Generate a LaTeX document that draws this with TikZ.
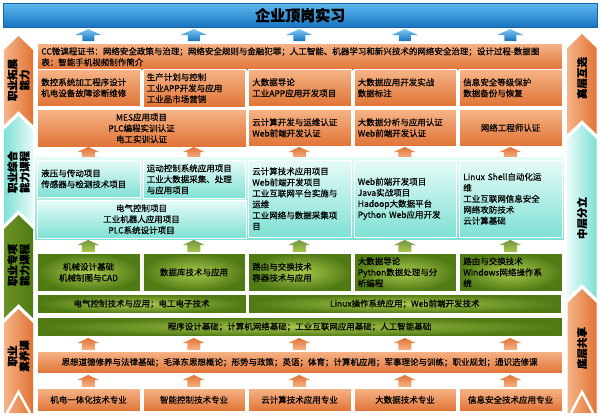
\documentclass[tikz,border=0pt]{standalone}
\usepackage{fontspec}
\setmainfont{Noto Sans CJK SC}[FakeBold=0.5]
\definecolor{skyTop}{HTML}{5DB9EE}
\definecolor{skyBot}{HTML}{1774C0}
\definecolor{skyEdge}{HTML}{1565A8}
\definecolor{peach}{HTML}{F6B487}
\definecolor{rust}{HTML}{E07335}
\definecolor{mint}{HTML}{E6FBF8}
\definecolor{aqua}{HTML}{7EE0D4}
\definecolor{leaf}{HTML}{A9C94E}
\definecolor{olive}{HTML}{507A14}

\begin{document}
\begin{tikzpicture}[x=1pt, y=-1pt, font=\fontsize{8.5}{11}\selectfont, every node/.style={text=black},
  cell/.style={anchor=north west, draw=white, line width=.6pt, inner sep=4pt, align=center},
  obox/.style={cell, top color=peach, bottom color=rust},
  tbox/.style={cell, top color=mint, bottom color=aqua},
  gbox/.style={cell, inner color=leaf, outer color=olive},
  one/.style={minimum width=102.5pt},
  two/.style={minimum width=208.5pt},
  three/.style={minimum width=313pt},
  five/.style={minimum width=524.5pt},
  lt/.style={text width=94.5pt, align=left},
  blueup/.style={top color=skyTop!80, bottom color=skyBot},
  orangeup/.style={top color=rust, bottom color=peach},
  greenup/.style={top color=olive!80, bottom color=leaf},
  side/.style={rotate=90, align=center, font=\bfseries\fontsize{10.5}{12}\selectfont}]
  \useasboundingbox (0,0) rectangle (600,416);

  % Internship bar on top, fed by five blue arrows.
  \node[anchor=north west, minimum width=594pt, minimum height=24pt, top color=skyTop, bottom color=skyBot,
    draw=skyEdge, font=\bfseries\fontsize{15}{15}\selectfont] (title) at (3,3) {企业顶岗实习};
  \foreach \x in {88.25,193.75,299.25,404.75,510.25}
    \shade[blueup] ({\x-6},41) -- ({\x-6},35) -- ({\x-13},35) -- (\x,29) -- ({\x+13},35) -- ({\x+6},35) -- ({\x+6},41) -- cycle;

  % Extension layer (orange).
  \node[obox, five, minimum height=23pt, text width=516.5pt, align=left] (cc) at (37,43)
    {CC微课程证书：网络安全政策与治理；网络安全规则与金融犯罪；人工智能、机器学习和新兴技术的网络安全治理；设计过程-数据图\\表：智能手机视频制作简介};
  \node[obox, one, lt, minimum height=37pt] (pro1) at (37,69) {数控系统加工程序设计\\机电设备故障诊断维修};
  \node[obox, one, lt, minimum height=37pt] (pro2) at (142.5,69) {生产计划与控制\\工业APP开发与应用\\工业品市场营销};
  \node[obox, one, lt, minimum height=37pt] (pro3) at (248,69) {大数据导论\\工业APP应用开发项目};
  \node[obox, one, lt, minimum height=37pt] (pro4) at (353.5,69) {大数据应用开发实战\\数据标注};
  \node[obox, one, lt, minimum height=37pt] (pro5) at (459,69) {信息安全等级保护\\数据备份与恢复};
  \node[obox, two, minimum height=37pt] (cert12) at (37,109) {MES应用项目\\PLC编程实训认证\\电工实训认证};
  \node[obox, one, lt, minimum height=37pt] (cert3) at (248,109) {云计算开发与运维认证\\Web前端开发认证};
  \node[obox, one, lt, minimum height=37pt] (cert4) at (353.5,109) {大数据分析与应用认证\\Web前端开发认证};
  \node[obox, one, minimum height=37pt] (cert5) at (459,109) {网络工程师认证};
  \foreach \x in {88.25,193.75,299.25,404.75,510.25}
    \shade[orangeup] ({\x-6.5},159) -- ({\x-6.5},152) -- ({\x-11},152) -- (\x,147) -- ({\x+11},152) -- ({\x+6.5},152) -- ({\x+6.5},159) -- cycle;

  % Comprehensive layer (teal) on its own panel.
  \shade[top color=mint, bottom color=aqua] (35,157) rectangle (563.5,239);
  \node[tbox, one, lt, minimum height=37pt] (comp1) at (37,160) {液压与传动项目\\传感器与检测技术项目};
  \node[tbox, one, lt, minimum height=37pt] (comp2) at (142.5,160) {运动控制系统应用项目\\工业大数据采集、处理\\与应用项目};
  \node[tbox, two, minimum height=37pt] (comp12) at (37,200) {电气控制项目\\工业机器人应用项目\\PLC系统设计项目};
  \node[tbox, one, lt, minimum height=77pt] (comp3) at (248,160)
    {云计算技术应用项目\\Web前端开发项目\\工业互联网平台实施与\\运维\\工业网络与数据采集项\\目};
  \node[tbox, one, lt, minimum height=77pt] (comp4) at (353.5,160)
    {Web前端开发项目\\Java实战项目\\Hadoop大数据平台\\Python Web应用开发};
  \node[tbox, one, lt, minimum height=77pt] (comp5) at (459,160)
    {Linux Shell自动化运\\维\\工业互联网信息安全\\网络攻防技术\\云计算基础};
  \foreach \x in {88.25,193.75,299.25,404.75,510.25}
    \shade[greenup] ({\x-6.5},252) -- ({\x-6.5},245) -- ({\x-11},245) -- (\x,240) -- ({\x+11},245) -- ({\x+6.5},245) -- ({\x+6.5},252) -- cycle;

  % Special skill layer (green).
  \node[gbox, one, minimum height=38pt] (spec1) at (37,253) {机械设计基础\\机械制图与CAD};
  \node[gbox, one, minimum height=38pt] (spec2) at (142.5,253) {数据库技术与应用};
  \node[gbox, one, lt, minimum height=38pt] (spec3) at (248,253) {路由与交换技术\\容器技术与应用};
  \node[gbox, one, lt, minimum height=38pt] (spec4) at (353.5,253) {大数据导论\\Python数据处理与分\\析编程};
  \node[gbox, one, lt, minimum height=38pt] (spec5) at (459,253) {路由与交换技术\\Windows网络操作系\\统};
  \node[gbox, two, minimum height=19pt, inner sep=2pt] (spec12) at (37,294) {电气控制技术与应用；电工电子技术};
  \node[gbox, three, minimum height=19pt, inner sep=2pt] (spec35) at (248,294) {Linux操作系统应用；Web前端开发技术};
  \node[gbox, five, minimum height=19pt, inner sep=2pt] (base) at (37,317) {程序设计基础；计算机网络基础；工业互联网应用基础；人工智能基础};
  \foreach \x in {88.25,193.75,299.25,404.75,510.25}
    \shade[orangeup] ({\x-6.5},350) -- ({\x-6.5},343) -- ({\x-11},343) -- (\x,338) -- ({\x+11},343) -- ({\x+6.5},343) -- ({\x+6.5},350) -- cycle;

  % Literacy layer and the five majors.
  \node[obox, five, minimum height=22pt] (lit) at (37,351)
    {思想道德修养与法律基础；毛泽东思想概论；形势与政策；英语；体育；计算机应用；军事理论与训练；职业规划；通识选修课};
  \foreach \x in {88.25,193.75,299.25,404.75,510.25}
    \shade[orangeup] ({\x-6.5},387) -- ({\x-6.5},380) -- ({\x-11},380) -- (\x,375) -- ({\x+11},380) -- ({\x+6.5},380) -- ({\x+6.5},387) -- cycle;
  \node[obox, one, minimum height=23pt] (maj1) at (37,388) {机电一体化技术专业};
  \node[obox, one, minimum height=23pt] (maj2) at (142.5,388) {智能控制技术专业};
  \node[obox, one, minimum height=23pt] (maj3) at (248,388) {云计算技术应用专业};
  \node[obox, one, minimum height=23pt] (maj4) at (353.5,388) {大数据技术专业};
  \node[obox, one, minimum height=23pt] (maj5) at (459,388) {信息安全技术应用专业};

  % Left column: stacked chevrons for the course levels.
  \shade[left color=peach, right color=rust] (4,50) -- (18.5,36) -- (33,50) -- (33,125) -- (18.5,111) -- (4,125) -- cycle;
  \shade[left color=aqua, right color=mint] (4,130) -- (18.5,116) -- (33,130) -- (33,224) -- (18.5,210) -- (4,224) -- cycle;
  \shade[left color=olive!70!leaf, right color=olive] (4,229) -- (18.5,215) -- (33,229) -- (33,318) -- (18.5,304) -- (4,318) -- cycle;
  \shade[left color=peach, right color=rust] (4,323) -- (18.5,309) -- (33,323) -- (33,413) -- (4,413) -- cycle;
  \draw[white, line width=2.5pt] (7,413) -- (18.5,392) -- (30,413);
  \node[side] (lx1) at (18.5,80) {职业拓展\\能力};
  \node[side] (lx2) at (18.5,172) {职业综合\\能力课程};
  \node[side] (lx3) at (18.5,265) {职业专项\\能力课程};
  \node[side] (lx4) at (18.5,356) {职业\\素养课};

  % Right column: three tiers.
  \shade[left color=peach, right color=rust] (567.5,48) -- (582,34) -- (596.5,48) -- (596.5,134) -- (582,120) -- (567.5,134) -- cycle;
  \shade[left color=mint, right color=aqua] (567.5,139) -- (582,125) -- (596.5,139) -- (596.5,298) -- (582,284) -- (567.5,298) -- cycle;
  \shade[left color=peach, right color=rust] (567.5,303) -- (582,289) -- (596.5,303) -- (596.5,413) -- (567.5,413) -- cycle;
  \draw[white, line width=2.5pt] (571,413) -- (582,392) -- (593,413);
  \node[side] (rx1) at (582,78) {高层互选};
  \node[side] (rx2) at (582,218) {中层分立};
  \node[side] (rx3) at (582,348) {底层共享};
\end{tikzpicture}
\end{document}
